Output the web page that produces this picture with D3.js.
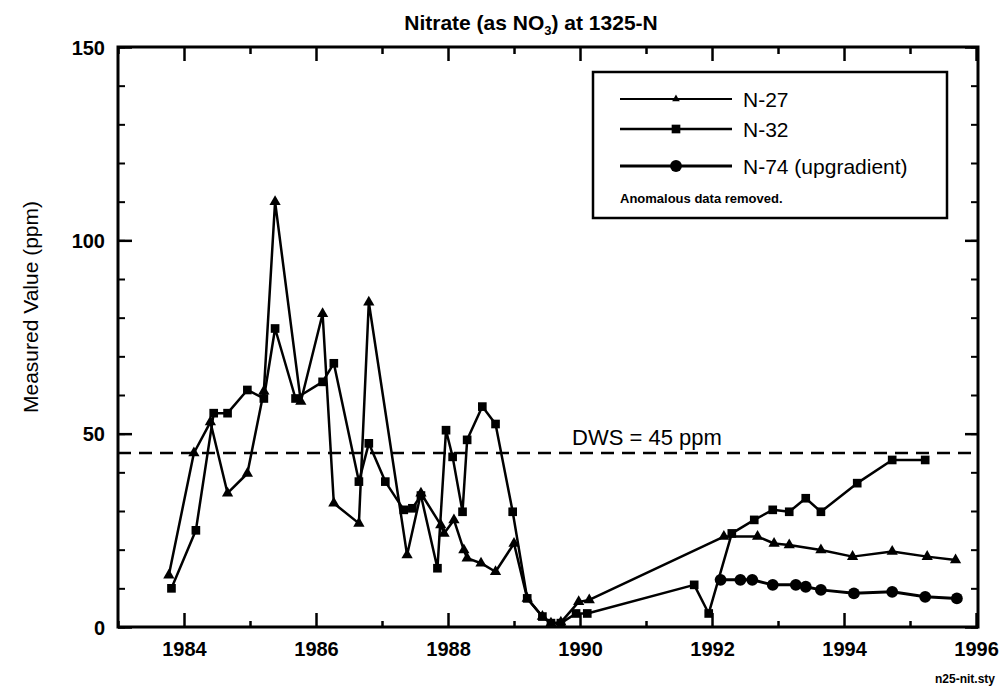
<!DOCTYPE html>
<html>
<head>
<meta charset="utf-8">
<script src="https://cdn.jsdelivr.net/npm/d3@7"></script>
<style>
  html, body { margin: 0; padding: 0; background: #fff; }
  svg { display: block; font-family: "Liberation Sans", Arial, Helvetica, sans-serif; }
</style>
</head>
<body>
<svg id="chart" width="1007" height="687"></svg>
<script>
// ---- data ----
const n27Years = [1983.77,1984.15,1984.40,1984.66,1984.96,1985.21,1985.38,1985.77,1986.10,1986.27,1986.65,1986.80,1987.38,1987.59,1987.89,1987.94,1988.09,1988.24,1988.29,1988.50,1988.72,1989.00,1989.20,1989.43,1989.56,1989.71,1989.98,1990.14,1992.18,1992.69,1992.94,1993.17,1993.65,1994.13,1994.73,1995.26,1995.69];
const n27Values = [13.4,45,53,34.6,39.7,61,110,58.3,81,32,26.8,84,18.6,34.6,26.4,24.2,27.7,19.9,17.8,16.5,14.3,21.6,7.4,2.7,1.0,1.2,6.5,7,23.4,23.4,21.6,21.2,19.9,18.2,19.5,18.2,17.3];

const n32Years = [1983.81,1984.18,1984.45,1984.66,1984.96,1985.21,1985.38,1985.69,1986.10,1986.27,1986.65,1986.80,1987.05,1987.33,1987.46,1987.59,1987.84,1987.97,1988.07,1988.22,1988.29,1988.52,1988.72,1988.98,1989.20,1989.43,1989.56,1989.71,1989.94,1990.11,1991.73,1991.95,1992.30,1992.64,1992.92,1993.17,1993.42,1993.65,1994.20,1994.73,1995.23];
const n32Values = [10,25,55.3,55.3,61.3,59.1,77.2,59.1,63.4,68.2,37.6,47.5,37.6,30.3,30.7,34,15.2,50.9,44,29.8,48.4,57,52.5,29.8,7.4,2.7,1,1,3.5,3.5,10.9,3.5,24.2,27.7,30.3,29.8,33.3,29.8,37.2,43.2,43.2];

const n74Years = [1992.13,1992.43,1992.61,1992.92,1993.27,1993.42,1993.65,1994.15,1994.73,1995.23,1995.71];
const n74Values = [12.2,12.2,12.2,10.9,10.9,10.4,9.6,8.7,9.1,7.8,7.4];

const seriesNames = ["N-27", "N-32", "N-74  (upgradient)"];
const xTickYears = [1984,1986,1988,1990,1992,1994,1996];
const xMinorYears = [1983,1985,1987,1989,1991,1993,1995];
const yTickValues = [0,50,100,150];
const yMinorValues = d3.range(0,151,10);
const dwsValue = 45;
const titleMain = "Nitrate (as NO";
const titleSub = "3";
const titleEnd = ") at 1325-N";
const yLabel = "Measured Value (ppm)";
const dwsLabel = "DWS = 45 ppm";
const legendNote = "Anomalous data removed.";
const fileNote = "n25-nit.sty";

// ---- layout ----
const svg = d3.select("#chart");
svg.append("rect").attr("width",1007).attr("height",687).attr("fill","#fff");

const L = 118, R = 978, T = 47, B = 627;
const x = d3.scaleLinear().domain([1983, 1996.03]).range([L, R]);
const y = d3.scaleLinear().domain([0, 150]).range([B, T]);

const g = svg.append("g");

function styleAxis(sel, width) {
  sel.select(".domain").remove();
  sel.selectAll(".tick line").attr("stroke","#000").attr("stroke-width", width);
}

// left axis
g.append("g").attr("transform",`translate(${L},0)`)
  .call(d3.axisLeft(y).tickValues(yMinorValues).tickSize(-7).tickFormat(""))
  .call(s => styleAxis(s, 2));
g.append("g").attr("transform",`translate(${L},0)`)
  .call(d3.axisLeft(y).tickValues(yTickValues).tickSize(-14).tickPadding(13).tickFormat(d3.format("d")))
  .call(s => styleAxis(s, 2.5))
  .call(s => s.selectAll("text").attr("font-size", 20).attr("font-weight","bold").attr("fill","#000").attr("dy","0.36em"));

// right axis
g.append("g").attr("transform",`translate(${R},0)`)
  .call(d3.axisRight(y).tickValues(yMinorValues).tickSize(-7).tickFormat(""))
  .call(s => styleAxis(s, 2));
g.append("g").attr("transform",`translate(${R},0)`)
  .call(d3.axisRight(y).tickValues(yTickValues).tickSize(-13).tickFormat(""))
  .call(s => styleAxis(s, 2.5));

// bottom axis
g.append("g").attr("transform",`translate(0,${B})`)
  .call(d3.axisBottom(x).tickValues(xMinorYears).tickSize(-6).tickFormat(""))
  .call(s => styleAxis(s, 2.5));
g.append("g").attr("transform",`translate(0,${B})`)
  .call(d3.axisBottom(x).tickValues(xTickYears).tickSize(-14).tickPadding(15).tickFormat(d3.format("d")))
  .call(s => styleAxis(s, 2.5))
  .call(s => s.selectAll("text").attr("font-size", 20).attr("font-weight","bold").attr("fill","#000"));

// top axis
g.append("g").attr("transform",`translate(0,${T})`)
  .call(d3.axisTop(x).tickValues(xMinorYears).tickSize(-7).tickFormat(""))
  .call(s => styleAxis(s, 2.5));
g.append("g").attr("transform",`translate(0,${T})`)
  .call(d3.axisTop(x).tickValues(xTickYears).tickSize(-14).tickFormat(""))
  .call(s => styleAxis(s, 2.5));

// frame
g.append("rect").attr("x",L).attr("y",T).attr("width",R-L).attr("height",B-T)
  .attr("fill","none").attr("stroke","#000").attr("stroke-width",3);

// DWS line
g.append("line").attr("x1",L).attr("x2",R).attr("y1",y(dwsValue)).attr("y2",y(dwsValue))
  .attr("stroke","#000").attr("stroke-width",2.5).attr("stroke-dasharray","13,8");
g.append("text").attr("x",x(1989.88)).attr("y",y(dwsValue)-8)
  .attr("font-size",22).attr("fill","#000").text(dwsLabel);

// series
const line = d3.line().x(d => x(d[0])).y(d => y(d[1]));
const zip = (a,b) => a.map((v,i) => [v,b[i]]);
const s27 = zip(n27Years, n27Values);
const s32 = zip(n32Years, n32Values);
const s74 = zip(n74Years, n74Values);

const tri = d3.symbol().type(d3.symbolTriangle).size(55);
const sq = d3.symbol().type(d3.symbolSquare).size(75);
const circ = d3.symbol().type(d3.symbolCircle).size(110);

function drawSeries(data, sym, lw) {
  g.append("path").datum(data).attr("d", line)
    .attr("fill","none").attr("stroke","#000").attr("stroke-width",lw).attr("stroke-linejoin","round");
  g.selectAll(null).data(data).enter().append("path")
    .attr("transform", d => `translate(${x(d[0])},${y(d[1])})`)
    .attr("d", sym).attr("fill","#000");
}
drawSeries(s27, tri, 2.5);
drawSeries(s32, sq, 2.5);
drawSeries(s74, circ, 3);

// legend
const lg = g.append("g");
lg.append("rect").attr("x",593).attr("y",72).attr("width",354).attr("height",146)
  .attr("fill","#fff").attr("stroke","#000").attr("stroke-width",2.5);
const legendSyms = [tri, sq, circ];
const legendY = [99, 129, 166];
const legendW = [2, 2.5, 3];
seriesNames.forEach((name, i) => {
  lg.append("line").attr("x1",620).attr("x2",732).attr("y1",legendY[i]).attr("y2",legendY[i])
    .attr("stroke","#000").attr("stroke-width",legendW[i]);
  lg.append("path").attr("transform",`translate(676,${legendY[i]})`)
    .attr("d", i === 0 ? d3.symbol().type(d3.symbolTriangle).size(25) : legendSyms[i]).attr("fill","#000");
  lg.append("text").attr("x",743).attr("y",legendY[i]+8).attr("font-size",21).attr("fill","#000").text(name);
});
lg.append("text").attr("x",620).attr("y",203).attr("font-size",13).attr("font-weight","bold").attr("fill","#000").text(legendNote);

// title
const title = svg.append("text").attr("x",531).attr("y",30).attr("text-anchor","middle")
  .attr("font-size",21).attr("font-weight","bold").attr("fill","#000");
title.append("tspan").text(titleMain);
title.append("tspan").attr("font-size",13).attr("dy",5).text(titleSub);
title.append("tspan").attr("dy",-5).text(titleEnd);

// y label
svg.append("text").attr("transform",`translate(38,${(T+B)/2 - 30}) rotate(-90)`)
  .attr("text-anchor","middle").attr("font-size",21).attr("fill","#000").text(yLabel);

// file note
svg.append("text").attr("x",995).attr("y",683).attr("text-anchor","end")
  .attr("font-size",12).attr("font-weight","bold").attr("fill","#000").text(fileNote);
</script>
</body>
</html>
